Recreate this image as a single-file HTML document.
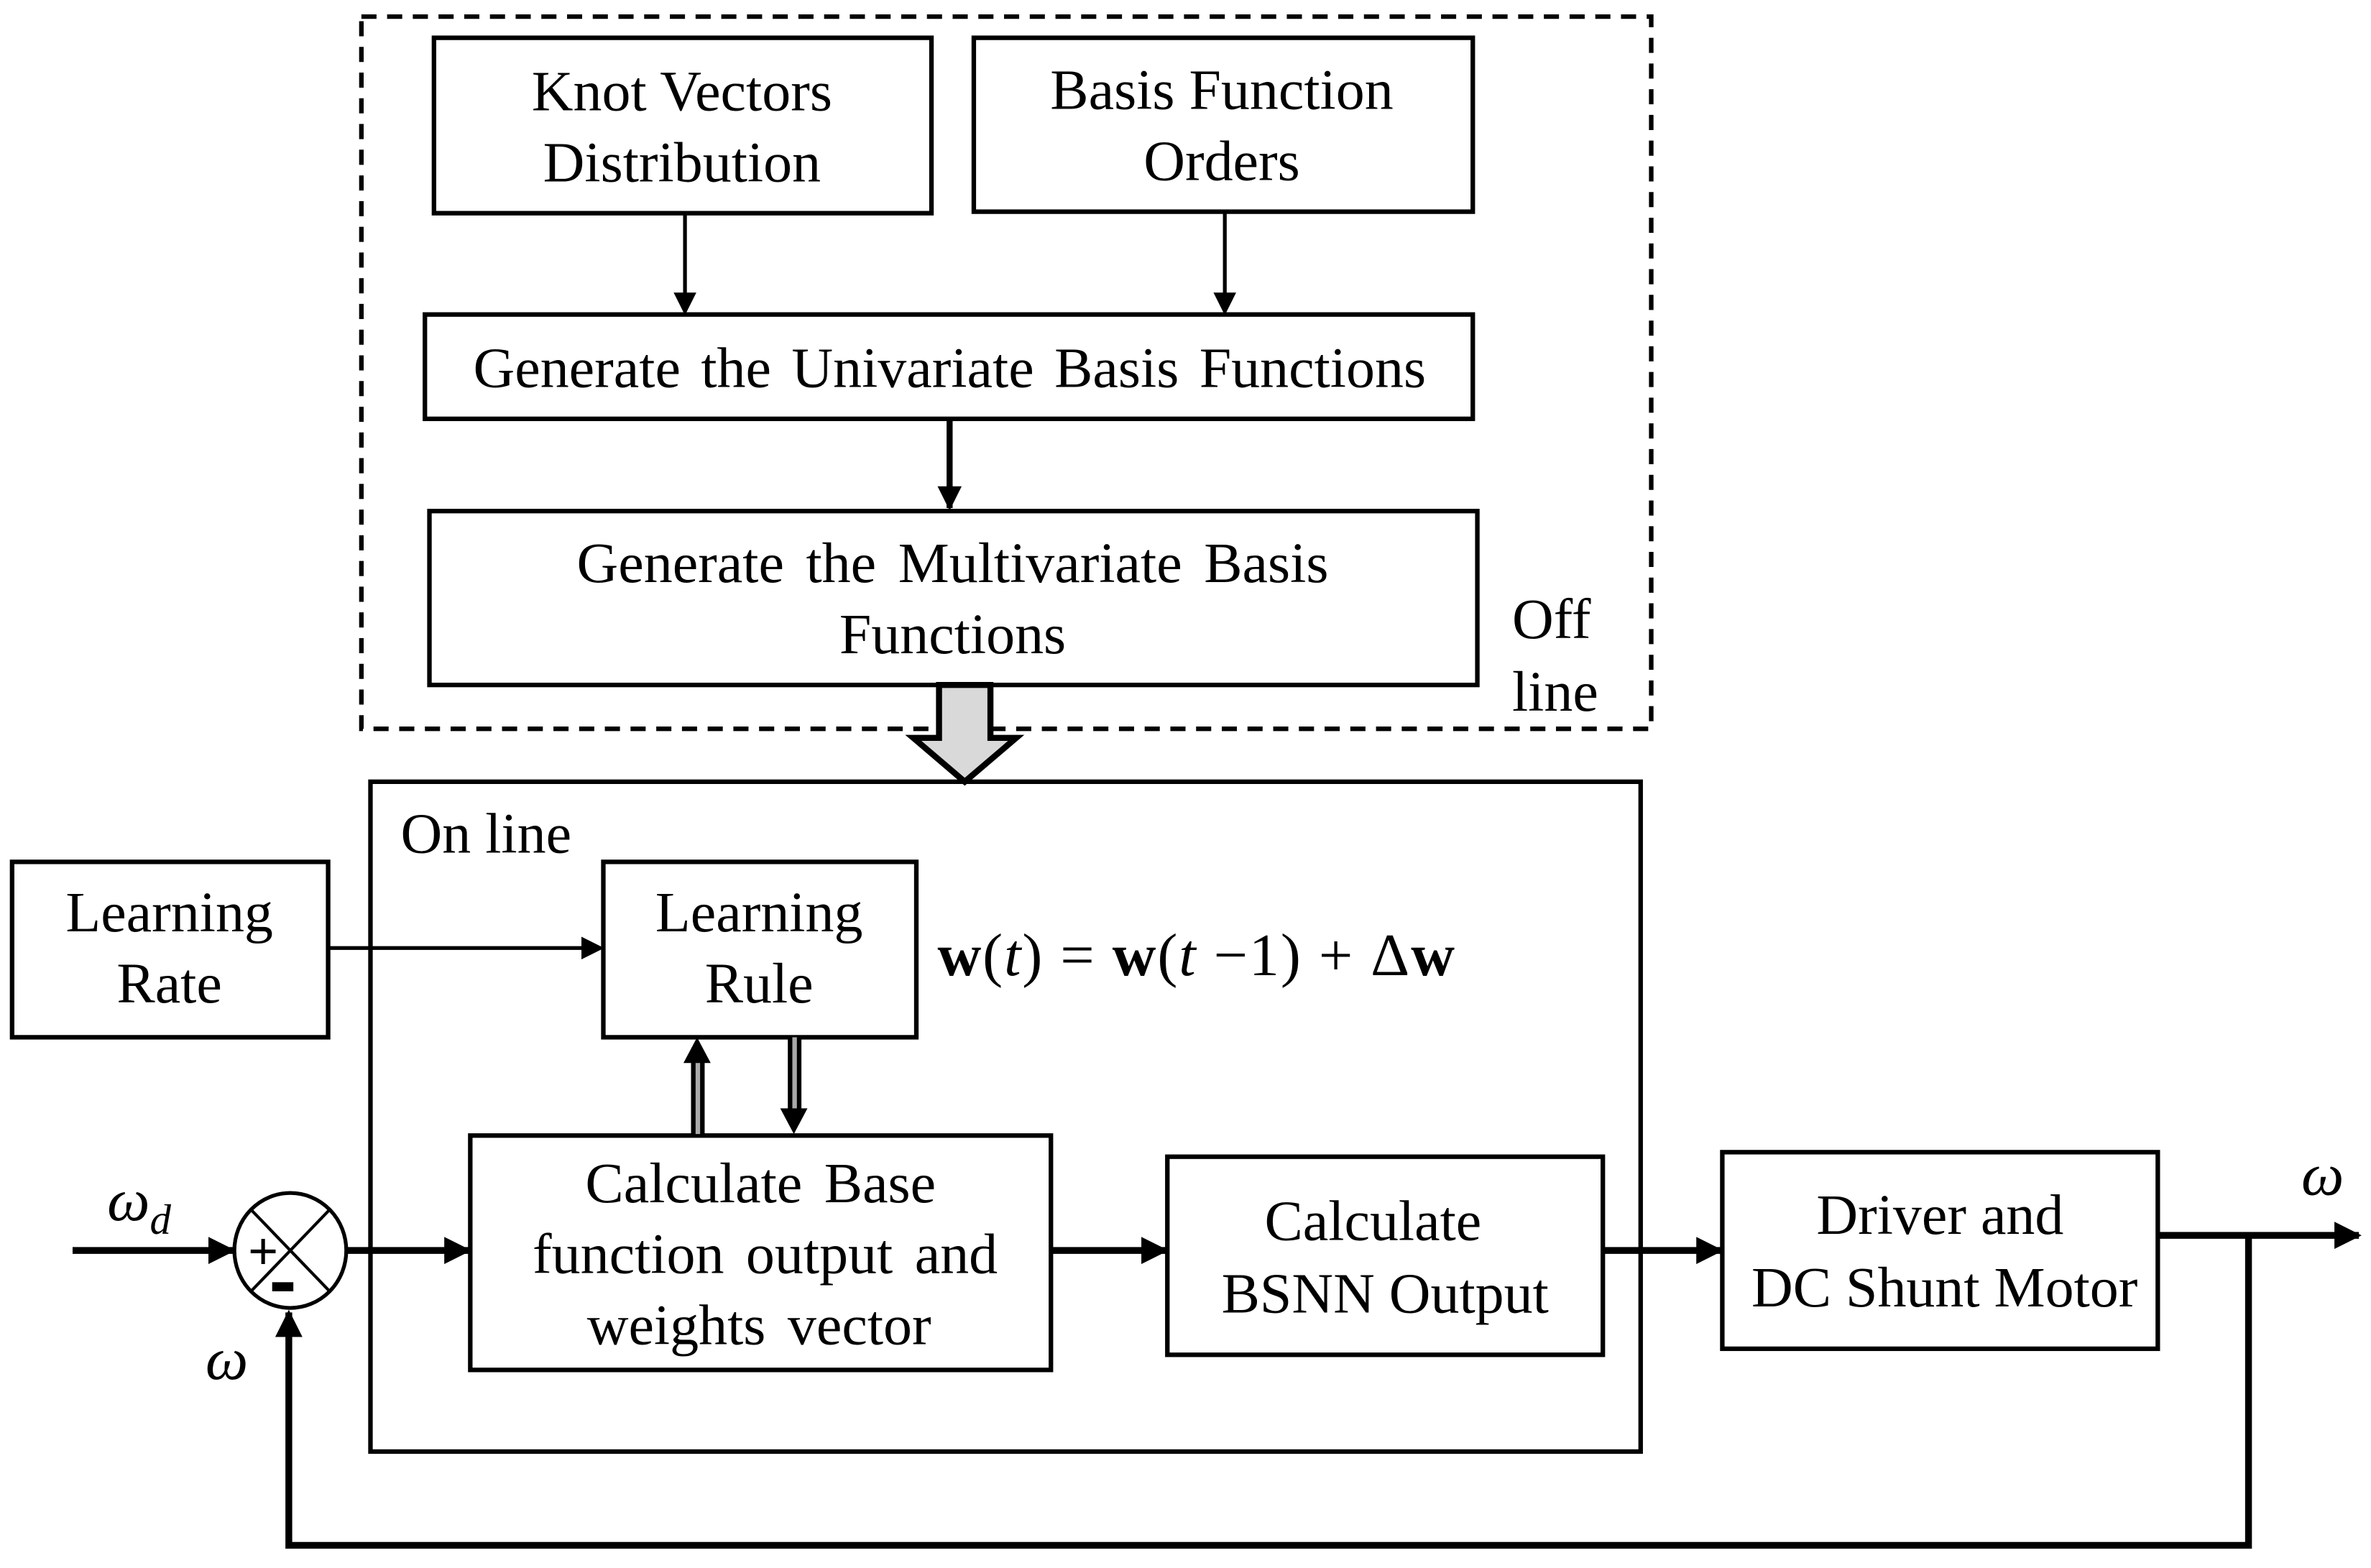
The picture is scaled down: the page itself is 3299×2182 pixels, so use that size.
<!DOCTYPE html>
<html><head><meta charset="utf-8"><style>html,body{margin:0;padding:0;background:#fff}svg{display:block}</style></head>
<body>
<svg width="3299" height="2182" viewBox="0 0 1568 1037" preserveAspectRatio="none" xmlns="http://www.w3.org/2000/svg" font-family="'Liberation Serif', serif" font-size="38" text-anchor="middle">
<defs>
<marker id="a" markerWidth="6" markerHeight="6" refX="5" refY="3" orient="auto" markerUnits="strokeWidth"><path d="M0,0 L6,3 L0,6 z" fill="#000"/></marker>
<marker id="b" markerWidth="4" markerHeight="4" refX="3.6" refY="2" orient="auto" markerUnits="strokeWidth"><path d="M0,0 L4,2 L0,4 z" fill="#000"/></marker>
</defs>
<rect x="0" y="0" width="1568" height="1037" fill="#fff"/>
<rect x="239" y="11" width="853" height="471" fill="none" stroke="#000" stroke-width="3" stroke-dasharray="10,7"/>
<g fill="none" stroke="#000" stroke-width="3">
<rect x="287" y="25" width="329" height="116"/>
<rect x="644" y="25" width="330" height="115"/>
<rect x="281" y="208" width="693" height="69"/>
<rect x="284" y="338" width="693" height="115"/>
<rect x="245" y="517" width="840" height="443"/>
<rect x="8" y="570" width="209" height="116"/>
<rect x="399" y="570" width="207" height="116"/>
<rect x="311" y="751" width="384" height="155"/>
<rect x="772" y="765" width="288" height="131"/>
<rect x="1139" y="762" width="288" height="130"/>
</g>
<g stroke="#000" fill="none">
<line x1="453" y1="141" x2="453" y2="206" stroke-width="2.5" marker-end="url(#a)"/>
<line x1="810" y1="140" x2="810" y2="206" stroke-width="2.5" marker-end="url(#a)"/>
<line x1="628" y1="277" x2="628" y2="336" stroke-width="4" marker-end="url(#b)"/>
<line x1="217" y1="627" x2="397" y2="627" stroke-width="2.5" marker-end="url(#a)"/>
<line x1="48" y1="827" x2="154" y2="827" stroke-width="4.5" marker-end="url(#b)"/>
<line x1="229" y1="827" x2="310" y2="827" stroke-width="4.5" marker-end="url(#b)"/>
<line x1="695" y1="827" x2="771" y2="827" stroke-width="4.5" marker-end="url(#b)"/>
<line x1="1060" y1="827" x2="1138" y2="827" stroke-width="4.5" marker-end="url(#b)"/>
<line x1="1427" y1="817" x2="1560" y2="817" stroke-width="4.5" marker-end="url(#b)"/>
<polyline points="1487,817 1487,1022 191,1022 191,868" stroke-width="4.5" marker-end="url(#b)"/>
</g>
<g>
<rect x="457" y="700" width="9" height="50" fill="#000"/><rect x="460" y="700" width="3" height="50" fill="#aaa"/>
<path d="M452,703 L461,686 L470,703 z" fill="#000"/>
<rect x="521" y="686" width="9" height="50" fill="#000"/><rect x="524" y="686" width="3" height="50" fill="#aaa"/>
<path d="M516,733 L525,750 L534,733 z" fill="#000"/>
</g>
<path d="M621,453 L655,453 L655,488 L672,488 L638,517 L604,488 L621,488 z" fill="#d9d9d9" stroke="#000" stroke-width="4"/>
<ellipse cx="192" cy="827" rx="37" ry="38" fill="#fff" stroke="#000" stroke-width="2.5"/>
<line x1="166" y1="800" x2="218" y2="854" stroke="#000" stroke-width="2"/>
<line x1="218" y1="800" x2="166" y2="854" stroke="#000" stroke-width="2"/>
<text x="174" y="839" font-size="34" font-family="'Liberation Sans', sans-serif">+</text>
<rect x="180" y="848" width="14" height="6" fill="#000"/>
<text x="451" y="73">Knot Vectors</text>
<text x="451" y="120">Distribution</text>
<text x="808" y="72">Basis Function</text>
<text x="808" y="119">Orders</text>
<text x="628" y="256" word-spacing="4">Generate the Univariate Basis Functions</text>
<text x="630" y="385" word-spacing="5">Generate the Multivariate Basis</text>
<text x="630" y="432">Functions</text>
<text x="1000" y="422" text-anchor="start">Off</text>
<text x="1000" y="470" text-anchor="start">line</text>
<text x="265" y="564" text-anchor="start">On line</text>
<text x="112" y="616">Learning</text>
<text x="112" y="663">Rate</text>
<text x="502" y="616">Learning</text>
<text x="502" y="663">Rule</text>
<text x="620" y="645" text-anchor="start" font-size="40" textLength="342" lengthAdjust="spacing"><tspan font-weight="bold">w</tspan>(<tspan font-style="italic">t</tspan>) = <tspan font-weight="bold">w</tspan>(<tspan font-style="italic">t</tspan> −1) + Δ<tspan font-weight="bold">w</tspan></text>
<text x="503" y="795" word-spacing="5">Calculate Base</text>
<text x="506" y="842" word-spacing="5">function output and</text>
<text x="502" y="889" word-spacing="5">weights vector</text>
<text x="908" y="820">Calculate</text>
<text x="916" y="868">BSNN Output</text>
<text x="1283" y="816">Driver and</text>
<text x="1286" y="864">DC Shunt Motor</text>
<text x="92" y="807" font-style="italic" font-size="40">ω<tspan font-size="28" dy="9">d</tspan></text>
<text x="150" y="912" font-style="italic" font-size="40">ω</text>
<text x="1536" y="790" font-style="italic" font-size="40">ω</text>
</svg>
</body></html>
